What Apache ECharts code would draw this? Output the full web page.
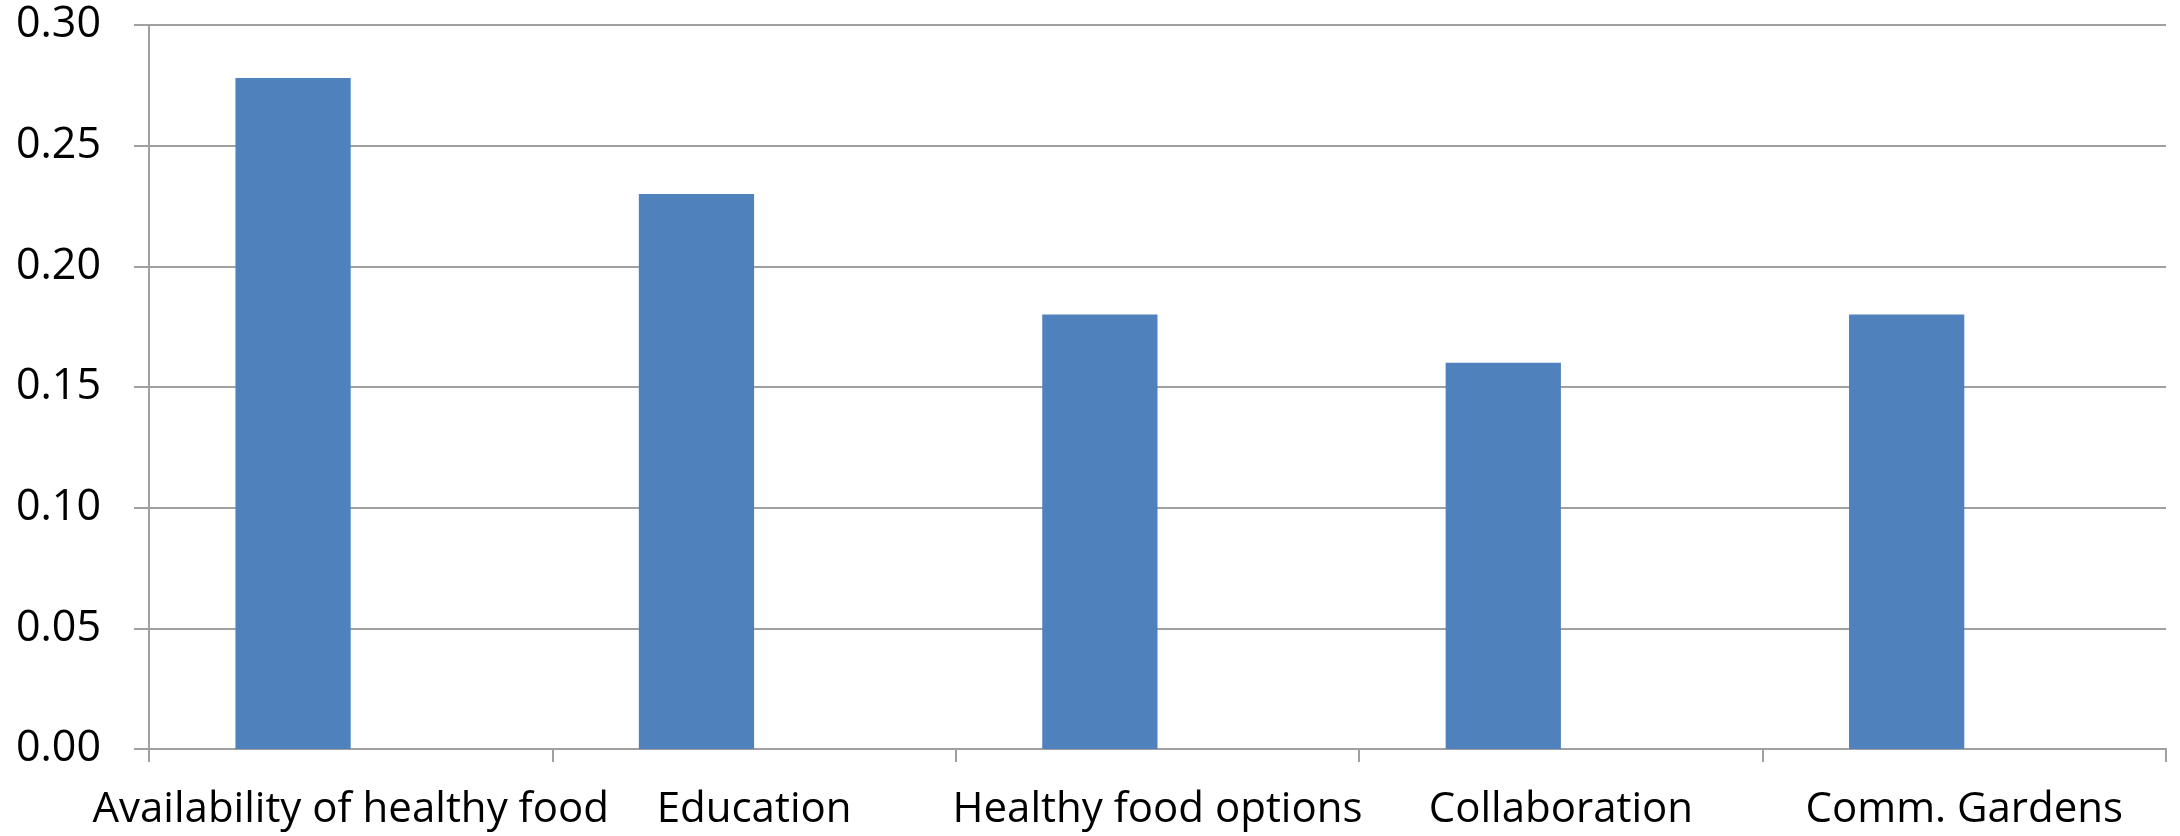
<!DOCTYPE html>
<html>
<head>
<meta charset="utf-8">
<script src="https://cdn.jsdelivr.net/npm/echarts@6/dist/echarts.min.js"></script>
<style>
html,body{margin:0;padding:0;background:#fff;}
#chart{width:2180px;height:836px;}
</style>
</head>
<body>
<div id="chart"></div>
<script>
const categories = ['Availability of healthy food', 'Education', 'Healthy food options', 'Collaboration', 'Comm. Gardens'];
const values = [0.278, 0.23, 0.18, 0.16, 0.18];
const emptySeries = [null, null, null, null, null];
const yTicks = { min: 0, max: 0.30, interval: 0.05 };

const chart = echarts.init(document.getElementById('chart'), null, { renderer: 'canvas' });
const fontFamily = '"Open Sans", "Liberation Sans", sans-serif';
const gridColor = '#a0a0a0';
chart.setOption({
  animation: false,
  backgroundColor: '#ffffff',
  grid: { left: 149, right: 14, top: 25, bottom: 87, containLabel: false },
  xAxis: {
    type: 'category',
    data: categories,
    axisLine: { show: true, lineStyle: { color: gridColor, width: 2 } },
    axisTick: { show: true, length: 13, lineStyle: { color: gridColor, width: 2 } },
    axisLabel: { color: '#000', fontSize: 42, fontFamily: fontFamily, margin: 40, interval: 0 },
    splitLine: { show: false }
  },
  yAxis: {
    type: 'value',
    min: yTicks.min, max: yTicks.max, interval: yTicks.interval,
    axisLine: { show: true, lineStyle: { color: gridColor, width: 2 } },
    axisTick: { show: true, length: 15, lineStyle: { color: gridColor, width: 2 } },
    axisLabel: { color: '#000', fontSize: 43, fontFamily: fontFamily, margin: 48, formatter: v => v.toFixed(2) },
    splitLine: { show: true, lineStyle: { color: gridColor, width: 2 } }
  },
  series: [
    { type: 'bar', data: values, itemStyle: { color: '#4f81bd' }, barGap: '0%', barCategoryGap: '42.857%' },
    { type: 'bar', data: emptySeries, itemStyle: { color: '#c0504d' }, barGap: '0%', barCategoryGap: '42.857%' }
  ]
});
</script>
</body>
</html>
